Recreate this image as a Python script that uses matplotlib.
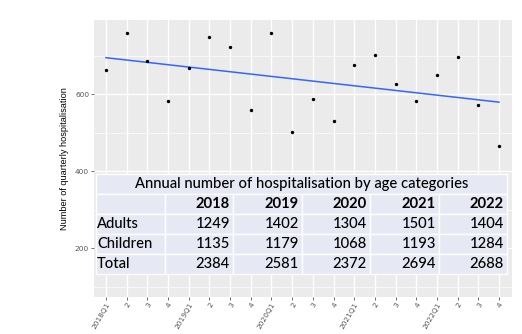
import numpy as np
import matplotlib
matplotlib.use('Agg')
import matplotlib.pyplot as plt
from matplotlib.patches import Rectangle

# quarterly hospitalisations 2018Q1 .. 2022Q4
quarters = ['2018Q1', '2', '3', '4', '2019Q1', '2', '3', '4', '2020Q1', '2', '3', '4',
            '2021Q1', '2', '3', '4', '2022Q1', '2', '3', '4']
counts = [664, 760, 686, 583, 669, 748, 723, 558, 760, 502, 587, 531,
          675, 702, 627, 583, 650, 698, 573, 466]

# annual table
table_title = 'Annual number of hospitalisation by age categories'
years = ['2018', '2019', '2020', '2021', '2022']
row_names = ['Adults', 'Children', 'Total']
adults = [1249, 1402, 1304, 1501, 1404]
children = [1135, 1179, 1068, 1193, 1284]
total = [2384, 2581, 2372, 2694, 2688]

W, H = 522, 334
fig = plt.figure(figsize=(W / 100, H / 100), dpi=100)
ax = fig.add_axes([94 / W, 1 - 297 / H, (512 - 94) / W, (297 - 20) / H])

x = np.arange(1, len(counts) + 1)
ax.set_facecolor('#ebebeb')
for s in ax.spines.values():
    s.set_visible(False)

# grid like ggplot
for yv in [100, 300, 500, 700]:
    ax.axhline(yv, color='white', lw=0.5, zorder=0)
for yv in [200, 400, 600]:
    ax.axhline(yv, color='white', lw=1.0, zorder=0)
for xv in x:
    ax.axvline(xv, color='white', lw=1.0, zorder=0)

ax.scatter(x, counts, s=6, color='black', zorder=3, linewidths=0)
k, b = np.polyfit(x, counts, 1)
ax.plot(x, k * x + b, color='#3366ff', lw=1.1, zorder=2)

ax.set_xlim(0.42, 20.63)
ax.set_ylim(73, 793)
ax.set_yticks([200, 400, 600])
ax.set_xticks(x)
ax.set_xticklabels(quarters, rotation=60, ha='right', rotation_mode='anchor')
ax.tick_params(axis='both', colors='#333333', labelcolor='#555555', labelsize=5.3,
               length=2, width=0.5, pad=1.5)
ax.set_ylabel('Number of quarterly hospitalisation', fontsize=6.6, family='Liberation Sans',
              labelpad=4)

# table drawn in pixel coords
tf = 'Lato'
fs = 10.6
cell_bg = '#e6e9f4'
x_edges = [96, 165, 233, 302, 370, 439, 507]
y_top = 174
rh = 20


def px(xp, yp):
    return xp / W, 1 - yp / H


def cell(x0, x1, y0):
    fig.add_artist(Rectangle(px(x0, y0 + rh), (x1 - x0) / W, rh / H,
                             transform=fig.transFigure, facecolor=cell_bg,
                             edgecolor='white', lw=1.0))


cell(x_edges[0], x_edges[-1], y_top)
fig.text(*px((x_edges[0] + x_edges[-1]) / 2, y_top + rh / 2), table_title,
         ha='center', va='center', fontsize=fs, family=tf, weight='medium')

rows = [[''] + years,
        [row_names[0]] + [str(v) for v in adults],
        [row_names[1]] + [str(v) for v in children],
        [row_names[2]] + [str(v) for v in total]]
for r, row in enumerate(rows):
    y0 = y_top + rh * (r + 1)
    for c, txt in enumerate(row):
        cell(x_edges[c], x_edges[c + 1], y0)
        if c == 0:
            fig.text(*px(x_edges[c] + 1, y0 + rh / 2), txt, ha='left', va='center',
                     fontsize=fs, family=tf, weight='medium')
        else:
            fig.text(*px(x_edges[c + 1] - 3, y0 + rh / 2), txt, ha='right', va='center',
                     fontsize=fs, family=tf, weight='bold' if r == 0 else 'medium')

fig.savefig('out.png', dpi=100)
